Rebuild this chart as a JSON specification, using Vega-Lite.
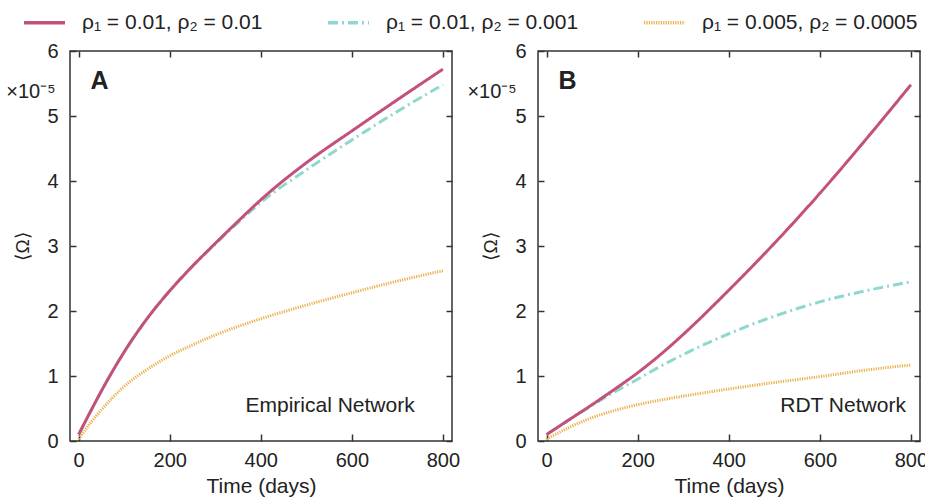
{
  "$schema": "https://vega.github.io/schema/vega-lite/v6.json",
  "background": "white",
  "padding": {"left": 5, "top": 0, "right": 5, "bottom": 3},
  "spacing": 5,
  "datasets": {
    "curves": [
      {"panel": "A", "params": "ρ₁ = 0.005, ρ₂ = 0.0005", "day": 0, "v": 0.03},
      {"panel": "A", "params": "ρ₁ = 0.005, ρ₂ = 0.0005", "day": 25, "v": 0.27},
      {"panel": "A", "params": "ρ₁ = 0.005, ρ₂ = 0.0005", "day": 50, "v": 0.48},
      {"panel": "A", "params": "ρ₁ = 0.005, ρ₂ = 0.0005", "day": 100, "v": 0.84},
      {"panel": "A", "params": "ρ₁ = 0.005, ρ₂ = 0.0005", "day": 150, "v": 1.1},
      {"panel": "A", "params": "ρ₁ = 0.005, ρ₂ = 0.0005", "day": 200, "v": 1.31},
      {"panel": "A", "params": "ρ₁ = 0.005, ρ₂ = 0.0005", "day": 250, "v": 1.48},
      {"panel": "A", "params": "ρ₁ = 0.005, ρ₂ = 0.0005", "day": 300, "v": 1.63},
      {"panel": "A", "params": "ρ₁ = 0.005, ρ₂ = 0.0005", "day": 400, "v": 1.88},
      {"panel": "A", "params": "ρ₁ = 0.005, ρ₂ = 0.0005", "day": 500, "v": 2.09},
      {"panel": "A", "params": "ρ₁ = 0.005, ρ₂ = 0.0005", "day": 600, "v": 2.28},
      {"panel": "A", "params": "ρ₁ = 0.005, ρ₂ = 0.0005", "day": 700, "v": 2.46},
      {"panel": "A", "params": "ρ₁ = 0.005, ρ₂ = 0.0005", "day": 800, "v": 2.62},
      {"panel": "A", "params": "ρ₁ = 0.01, ρ₂ = 0.001", "day": 0, "v": 0.1},
      {"panel": "A", "params": "ρ₁ = 0.01, ρ₂ = 0.001", "day": 25, "v": 0.44},
      {"panel": "A", "params": "ρ₁ = 0.01, ρ₂ = 0.001", "day": 50, "v": 0.77},
      {"panel": "A", "params": "ρ₁ = 0.01, ρ₂ = 0.001", "day": 100, "v": 1.37},
      {"panel": "A", "params": "ρ₁ = 0.01, ρ₂ = 0.001", "day": 150, "v": 1.88},
      {"panel": "A", "params": "ρ₁ = 0.01, ρ₂ = 0.001", "day": 200, "v": 2.31},
      {"panel": "A", "params": "ρ₁ = 0.01, ρ₂ = 0.001", "day": 250, "v": 2.69},
      {"panel": "A", "params": "ρ₁ = 0.01, ρ₂ = 0.001", "day": 300, "v": 3.03},
      {"panel": "A", "params": "ρ₁ = 0.01, ρ₂ = 0.001", "day": 350, "v": 3.36},
      {"panel": "A", "params": "ρ₁ = 0.01, ρ₂ = 0.001", "day": 400, "v": 3.67},
      {"panel": "A", "params": "ρ₁ = 0.01, ρ₂ = 0.001", "day": 500, "v": 4.17},
      {"panel": "A", "params": "ρ₁ = 0.01, ρ₂ = 0.001", "day": 600, "v": 4.63},
      {"panel": "A", "params": "ρ₁ = 0.01, ρ₂ = 0.001", "day": 700, "v": 5.07},
      {"panel": "A", "params": "ρ₁ = 0.01, ρ₂ = 0.001", "day": 800, "v": 5.48},
      {"panel": "A", "params": "ρ₁ = 0.01, ρ₂ = 0.01", "day": 0, "v": 0.1},
      {"panel": "A", "params": "ρ₁ = 0.01, ρ₂ = 0.01", "day": 25, "v": 0.44},
      {"panel": "A", "params": "ρ₁ = 0.01, ρ₂ = 0.01", "day": 50, "v": 0.77},
      {"panel": "A", "params": "ρ₁ = 0.01, ρ₂ = 0.01", "day": 100, "v": 1.37},
      {"panel": "A", "params": "ρ₁ = 0.01, ρ₂ = 0.01", "day": 150, "v": 1.88},
      {"panel": "A", "params": "ρ₁ = 0.01, ρ₂ = 0.01", "day": 200, "v": 2.31},
      {"panel": "A", "params": "ρ₁ = 0.01, ρ₂ = 0.01", "day": 250, "v": 2.69},
      {"panel": "A", "params": "ρ₁ = 0.01, ρ₂ = 0.01", "day": 300, "v": 3.04},
      {"panel": "A", "params": "ρ₁ = 0.01, ρ₂ = 0.01", "day": 350, "v": 3.38},
      {"panel": "A", "params": "ρ₁ = 0.01, ρ₂ = 0.01", "day": 400, "v": 3.71},
      {"panel": "A", "params": "ρ₁ = 0.01, ρ₂ = 0.01", "day": 500, "v": 4.28},
      {"panel": "A", "params": "ρ₁ = 0.01, ρ₂ = 0.01", "day": 600, "v": 4.77},
      {"panel": "A", "params": "ρ₁ = 0.01, ρ₂ = 0.01", "day": 700, "v": 5.25},
      {"panel": "A", "params": "ρ₁ = 0.01, ρ₂ = 0.01", "day": 800, "v": 5.72},
      {"panel": "B", "params": "ρ₁ = 0.005, ρ₂ = 0.0005", "day": 0, "v": 0.03},
      {"panel": "B", "params": "ρ₁ = 0.005, ρ₂ = 0.0005", "day": 50, "v": 0.21},
      {"panel": "B", "params": "ρ₁ = 0.005, ρ₂ = 0.0005", "day": 100, "v": 0.36},
      {"panel": "B", "params": "ρ₁ = 0.005, ρ₂ = 0.0005", "day": 150, "v": 0.47},
      {"panel": "B", "params": "ρ₁ = 0.005, ρ₂ = 0.0005", "day": 200, "v": 0.56},
      {"panel": "B", "params": "ρ₁ = 0.005, ρ₂ = 0.0005", "day": 250, "v": 0.63},
      {"panel": "B", "params": "ρ₁ = 0.005, ρ₂ = 0.0005", "day": 300, "v": 0.69},
      {"panel": "B", "params": "ρ₁ = 0.005, ρ₂ = 0.0005", "day": 400, "v": 0.8},
      {"panel": "B", "params": "ρ₁ = 0.005, ρ₂ = 0.0005", "day": 500, "v": 0.9},
      {"panel": "B", "params": "ρ₁ = 0.005, ρ₂ = 0.0005", "day": 600, "v": 0.99},
      {"panel": "B", "params": "ρ₁ = 0.005, ρ₂ = 0.0005", "day": 700, "v": 1.09},
      {"panel": "B", "params": "ρ₁ = 0.005, ρ₂ = 0.0005", "day": 800, "v": 1.17},
      {"panel": "B", "params": "ρ₁ = 0.01, ρ₂ = 0.001", "day": 0, "v": 0.1},
      {"panel": "B", "params": "ρ₁ = 0.01, ρ₂ = 0.001", "day": 50, "v": 0.33},
      {"panel": "B", "params": "ρ₁ = 0.01, ρ₂ = 0.001", "day": 100, "v": 0.55},
      {"panel": "B", "params": "ρ₁ = 0.01, ρ₂ = 0.001", "day": 150, "v": 0.76},
      {"panel": "B", "params": "ρ₁ = 0.01, ρ₂ = 0.001", "day": 200, "v": 0.95},
      {"panel": "B", "params": "ρ₁ = 0.01, ρ₂ = 0.001", "day": 250, "v": 1.15},
      {"panel": "B", "params": "ρ₁ = 0.01, ρ₂ = 0.001", "day": 300, "v": 1.33},
      {"panel": "B", "params": "ρ₁ = 0.01, ρ₂ = 0.001", "day": 400, "v": 1.65},
      {"panel": "B", "params": "ρ₁ = 0.01, ρ₂ = 0.001", "day": 500, "v": 1.92},
      {"panel": "B", "params": "ρ₁ = 0.01, ρ₂ = 0.001", "day": 600, "v": 2.14},
      {"panel": "B", "params": "ρ₁ = 0.01, ρ₂ = 0.001", "day": 700, "v": 2.31},
      {"panel": "B", "params": "ρ₁ = 0.01, ρ₂ = 0.001", "day": 800, "v": 2.45},
      {"panel": "B", "params": "ρ₁ = 0.01, ρ₂ = 0.01", "day": 0, "v": 0.1},
      {"panel": "B", "params": "ρ₁ = 0.01, ρ₂ = 0.01", "day": 50, "v": 0.33},
      {"panel": "B", "params": "ρ₁ = 0.01, ρ₂ = 0.01", "day": 100, "v": 0.56},
      {"panel": "B", "params": "ρ₁ = 0.01, ρ₂ = 0.01", "day": 150, "v": 0.8},
      {"panel": "B", "params": "ρ₁ = 0.01, ρ₂ = 0.01", "day": 200, "v": 1.05},
      {"panel": "B", "params": "ρ₁ = 0.01, ρ₂ = 0.01", "day": 250, "v": 1.33},
      {"panel": "B", "params": "ρ₁ = 0.01, ρ₂ = 0.01", "day": 300, "v": 1.64},
      {"panel": "B", "params": "ρ₁ = 0.01, ρ₂ = 0.01", "day": 400, "v": 2.32},
      {"panel": "B", "params": "ρ₁ = 0.01, ρ₂ = 0.01", "day": 500, "v": 3.04},
      {"panel": "B", "params": "ρ₁ = 0.01, ρ₂ = 0.01", "day": 600, "v": 3.81},
      {"panel": "B", "params": "ρ₁ = 0.01, ρ₂ = 0.01", "day": 700, "v": 4.63},
      {"panel": "B", "params": "ρ₁ = 0.01, ρ₂ = 0.01", "day": 800, "v": 5.48}
    ]
  },
  "config": {
    "font": "Liberation Sans",
    "view": {"stroke": "#333333", "strokeWidth": 1.5},
    "axis": {
      "domain": false,
      "grid": false,
      "tickColor": "#333333",
      "tickWidth": 1.5,
      "labelFont": "Liberation Sans",
      "labelFontSize": 20,
      "labelColor": "#222222",
      "titleFont": "Liberation Sans",
      "titleFontSize": 21,
      "titleFontWeight": "normal",
      "titleColor": "#222222"
    },
    "legend": {
      "orient": "none",
      "legendX": -48,
      "legendY": -51,
      "padding": 0,
      "direction": "horizontal",
      "title": null,
      "symbolType": "stroke",
      "symbolSize": 1680,
      "symbolStrokeWidth": 3.5,
      "labelFont": "Liberation Sans",
      "labelFontSize": 21,
      "labelColor": "#222222",
      "labelOffset": 15,
      "labelLimit": 400,
      "columnPadding": 58
    },
    "text": {"font": "Liberation Sans", "color": "#222222"}
  },
  "hconcat": [
    {
      "width": 382,
      "height": 390,
      "layer": [
        {
          "data": {"name": "curves"},
          "transform": [{"filter": "datum.panel == 'A'"}],
          "mark": {"type": "line", "strokeWidth": 3, "interpolate": "monotone"},
          "encoding": {
            "x": {"field": "day", "type": "quantitative", "scale": {"domain": [-19, 820], "nice": false, "zero": false},
                  "axis": {"orient": "bottom", "title": "Time (days)", "values": [0, 200, 400, 600, 800], "tickSize": -7, "labelPadding": 16, "titlePadding": 5}},
            "y": {"field": "v", "type": "quantitative", "scale": {"domain": [0, 6], "nice": false},
                  "axis": {"orient": "left", "title": "⟨Ω⟩", "titleFontSize": 19, "values": [0, 1, 2, 3, 4, 5, 6], "tickSize": -6, "labelPadding": 18, "titlePadding": 14}},
            "color": {"field": "params", "type": "nominal",
                      "scale": {"domain": ["ρ₁ = 0.01, ρ₂ = 0.01", "ρ₁ = 0.01, ρ₂ = 0.001", "ρ₁ = 0.005, ρ₂ = 0.0005"], "range": ["#C4507C", "#8FD8CF", "#E9B04C"]}},
            "strokeDash": {"field": "params", "type": "nominal",
                      "scale": {"domain": ["ρ₁ = 0.01, ρ₂ = 0.01", "ρ₁ = 0.01, ρ₂ = 0.001", "ρ₁ = 0.005, ρ₂ = 0.0005"], "range": [[1, 0], [10, 4, 2, 4], [1.2, 1.2]]}}
          }
        },
        {
          "data": {"name": "curves"},
          "transform": [{"filter": "datum.panel == 'A'"}],
          "mark": {"type": "point", "opacity": 0},
          "encoding": {
            "x": {"field": "day", "type": "quantitative", "axis": {"orient": "top", "title": null, "labels": false, "values": [0, 200, 400, 600, 800], "tickSize": -6}},
            "y": {"field": "v", "type": "quantitative", "axis": {"orient": "right", "title": null, "labels": false, "values": [0, 1, 2, 3, 4, 5, 6], "tickSize": -6}}
          }
        },
        {
          "data": {"values": [{}]},
          "mark": {"type": "text", "fontSize": 25, "fontWeight": "bold", "align": "center", "baseline": "middle"},
          "encoding": {"x": {"datum": 46, "axis": null}, "y": {"datum": 5.54, "axis": null}, "text": {"value": "A"}}
        },
        {
          "data": {"values": [{}]},
          "mark": {"type": "text", "fontSize": 20, "align": "right", "baseline": "middle"},
          "encoding": {"x": {"datum": -51, "axis": null}, "y": {"datum": 5.37, "axis": null}, "text": {"value": "×10⁻⁵"}}
        },
        {
          "data": {"values": [{}]},
          "mark": {"type": "text", "fontSize": 21, "align": "right", "baseline": "middle"},
          "encoding": {"x": {"datum": 738, "axis": null}, "y": {"datum": 0.54, "axis": null}, "text": {"value": "Empirical Network"}}
        }
      ],
      "resolve": {"axis": {"x": "independent", "y": "independent"}}
    },
    {
      "width": 382,
      "height": 390,
      "layer": [
        {
          "data": {"name": "curves"},
          "transform": [{"filter": "datum.panel == 'B'"}],
          "mark": {"type": "line", "strokeWidth": 3, "interpolate": "monotone"},
          "encoding": {
            "x": {"field": "day", "type": "quantitative", "scale": {"domain": [-19, 820], "nice": false, "zero": false},
                  "axis": {"orient": "bottom", "title": "Time (days)", "values": [0, 200, 400, 600, 800], "tickSize": -7, "labelPadding": 16, "titlePadding": 5}},
            "y": {"field": "v", "type": "quantitative", "scale": {"domain": [0, 6], "nice": false},
                  "axis": {"orient": "left", "title": "⟨Ω⟩", "titleFontSize": 19, "values": [0, 1, 2, 3, 4, 5, 6], "tickSize": -6, "labelPadding": 18, "titlePadding": 14}},
            "color": {"field": "params", "type": "nominal",
                      "scale": {"domain": ["ρ₁ = 0.01, ρ₂ = 0.01", "ρ₁ = 0.01, ρ₂ = 0.001", "ρ₁ = 0.005, ρ₂ = 0.0005"], "range": ["#C4507C", "#8FD8CF", "#E9B04C"]}},
            "strokeDash": {"field": "params", "type": "nominal",
                      "scale": {"domain": ["ρ₁ = 0.01, ρ₂ = 0.01", "ρ₁ = 0.01, ρ₂ = 0.001", "ρ₁ = 0.005, ρ₂ = 0.0005"], "range": [[1, 0], [10, 4, 2, 4], [1.2, 1.2]]}}
          }
        },
        {
          "data": {"name": "curves"},
          "transform": [{"filter": "datum.panel == 'B'"}],
          "mark": {"type": "point", "opacity": 0},
          "encoding": {
            "x": {"field": "day", "type": "quantitative", "axis": {"orient": "top", "title": null, "labels": false, "values": [0, 200, 400, 600, 800], "tickSize": -6}},
            "y": {"field": "v", "type": "quantitative", "axis": {"orient": "right", "title": null, "labels": false, "values": [0, 1, 2, 3, 4, 5, 6], "tickSize": -6}}
          }
        },
        {
          "data": {"values": [{}]},
          "mark": {"type": "text", "fontSize": 25, "fontWeight": "bold", "align": "center", "baseline": "middle"},
          "encoding": {"x": {"datum": 46, "axis": null}, "y": {"datum": 5.54, "axis": null}, "text": {"value": "B"}}
        },
        {
          "data": {"values": [{}]},
          "mark": {"type": "text", "fontSize": 20, "align": "right", "baseline": "middle"},
          "encoding": {"x": {"datum": -66, "axis": null}, "y": {"datum": 5.37, "axis": null}, "text": {"value": "×10⁻⁵"}}
        },
        {
          "data": {"values": [{}]},
          "mark": {"type": "text", "fontSize": 21, "align": "right", "baseline": "middle"},
          "encoding": {"x": {"datum": 789, "axis": null}, "y": {"datum": 0.54, "axis": null}, "text": {"value": "RDT Network"}}
        }
      ],
      "resolve": {"axis": {"x": "independent", "y": "independent"}}
    }
  ]
}
